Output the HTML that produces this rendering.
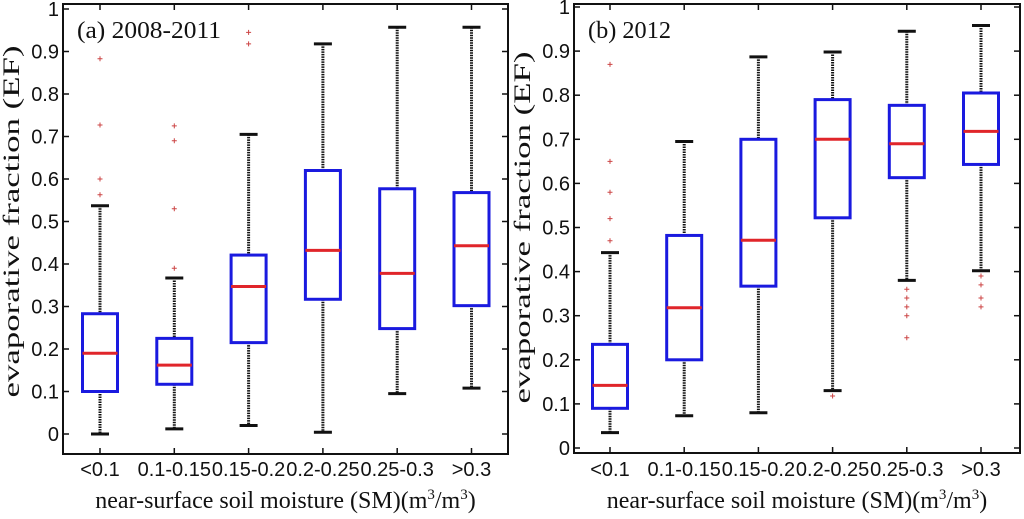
<!DOCTYPE html>
<html><head><meta charset="utf-8"><style>
body{margin:0;background:#fff;width:1024px;height:519px;overflow:hidden}
svg{display:block}
.tk{font-family:"Liberation Sans",Arial,sans-serif;font-size:20px;fill:#111}
.ttl{font-family:"Liberation Serif",serif;font-size:24px;fill:#111}
</style></head><body>
<svg id="c" width="1024" height="519"></svg>
<script>
const categories=["<0.1","0.1-0.15","0.15-0.2","0.2-0.25","0.25-0.3",">0.3"];
const yTicks=[0,0.1,0.2,0.3,0.4,0.5,0.6,0.7,0.8,0.9,1];
const aLow=[0,0.012,0.02,0.004,0.095,0.108];
const aQ1=[0.1,0.117,0.215,0.317,0.248,0.302];
const aMed=[0.19,0.162,0.347,0.432,0.378,0.443];
const aQ3=[0.283,0.225,0.421,0.62,0.577,0.568];
const aHigh=[0.537,0.367,0.705,0.918,0.957,0.957];
const aOut=[[0.563,0.6,0.727,0.883],[0.39,0.53,0.69,0.725],[0.918,0.945],[],[],[]];
const bLow=[0.035,0.073,0.08,0.13,0.38,0.402];
const bQ1=[0.09,0.2,0.367,0.522,0.613,0.643];
const bMed=[0.142,0.318,0.471,0.7,0.69,0.718];
const bQ3=[0.235,0.482,0.7,0.79,0.777,0.805];
const bHigh=[0.443,0.695,0.887,0.898,0.945,0.958];
const bOut=[[0.47,0.52,0.58,0.65,0.87],[],[],[0.118],[0.36,0.34,0.32,0.3,0.25],[0.39,0.37,0.34,0.32]];
const NS="http://www.w3.org/2000/svg";
const svg=document.getElementById('c');
function el(t,a,p){const e=document.createElementNS(NS,t);for(const k in a)e.setAttribute(k,a[k]);(p||svg).appendChild(e);return e;}
function panel(id,L,R,T,B,y0,y1,x0,dx,title,titleLen,low,q1,med,q3,high,outs){
  const g=el('g',{});
  
  
  const ys=v=>y0+(y1-y0)*v;
  const xs=i=>x0+dx*i;
  const fr=el('rect',{x:L,y:T,width:R-L,height:B-T,fill:'none',stroke:'#111','stroke-width':2},g);
  
  
  yTicks.forEach(v=>{
    const y=ys(v);
    el('line',{x1:L,x2:L+6,y1:y,y2:y,stroke:'#111','stroke-width':1.5},g);
    el('line',{x1:R,x2:R-6,y1:y,y2:y,stroke:'#111','stroke-width':1.5},g);
    const t=el('text',{x:L-4,y:y+7,'text-anchor':'end',class:'tk'},g);
    t.textContent=String(v);
    
    
  });
  categories.forEach((c,i)=>{
    const x=xs(i);
    el('line',{x1:x,x2:x,y1:B,y2:B-6,stroke:'#111','stroke-width':1.5},g);
    el('line',{x1:x,x2:x,y1:T,y2:T+6,stroke:'#111','stroke-width':1.5},g);
    const t=el('text',{x:x,y:476,'text-anchor':'middle',class:'tk'},g);
    t.textContent=c;
    
    
    const bg=el('g',{},g);
    
    
    el('line',{x1:x,x2:x,y1:ys(high[i]),y2:ys(q3[i]),stroke:'#111','stroke-width':3,'stroke-dasharray':'1.5 1'},bg);
    el('line',{x1:x,x2:x,y1:ys(q1[i]),y2:ys(low[i]),stroke:'#111','stroke-width':3,'stroke-dasharray':'1.5 1'},bg);
    el('line',{x1:x-9,x2:x+9,y1:ys(high[i]),y2:ys(high[i]),stroke:'#111','stroke-width':3},bg);
    el('line',{x1:x-9,x2:x+9,y1:ys(low[i]),y2:ys(low[i]),stroke:'#111','stroke-width':3},bg);
    el('rect',{x:x-17.5,y:ys(q3[i]),width:35,height:ys(q1[i])-ys(q3[i]),fill:'none',stroke:'#1a1adf','stroke-width':3},bg);
    el('line',{x1:x-17.5,x2:x+17.5,y1:ys(med[i]),y2:ys(med[i]),stroke:'#e0252a','stroke-width':3},bg);
    outs[i].forEach(o=>{
      const y=ys(o);
      el('path',{d:`M${x-2.5} ${y}H${x+2.5}M${x} ${y-2.5}V${y+2.5}`,stroke:'#c44','stroke-width':1},bg);
    });
  });
  const tt=el('text',{x:L+14,y:T+34,class:'ttl',textLength:titleLen,lengthAdjust:'spacingAndGlyphs'},g);
  tt.textContent=title;
  
  
  const xl=el('text',{x:(L+R)/2,y:508,'text-anchor':'middle',class:'ttl'},g);
  xl.innerHTML='near-surface soil moisture (SM)(m<tspan dy="-9" font-size="15">3</tspan><tspan dy="9">/m</tspan><tspan dy="-9" font-size="15">3</tspan><tspan dy="9">)</tspan>';
  
  
  const yl=el('text',{x:0,y:0,'text-anchor':'middle',class:'ttl',style:'font-size:23px',textLength:352,lengthAdjust:'spacingAndGlyphs',transform:`translate(${L-44},${(y0+y1)/2}) rotate(-90)`},g);
  yl.textContent='evaporative fraction (EF)';
  
  
}
panel('panel-a-2008-2011',63,508,4,454,434,9,100,74.3,'(a)  2008-2011',144,aLow,aQ1,aMed,aQ3,aHigh,aOut);
panel('panel-b-2012',574,1020,4,453,448,7,610,74.2,'(b) 2012',83,bLow,bQ1,bMed,bQ3,bHigh,bOut);
</script>
</body></html>
